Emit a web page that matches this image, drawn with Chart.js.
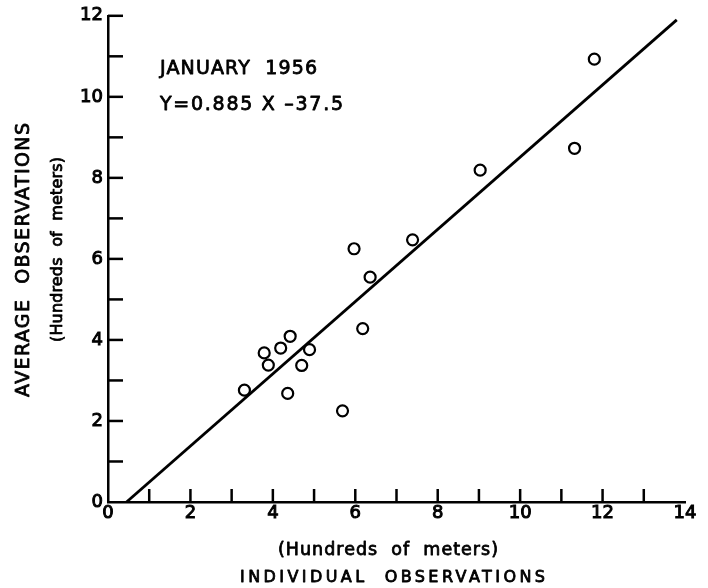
<!DOCTYPE html>
<html>
<head>
<meta charset="utf-8">
<script src="https://cdn.jsdelivr.net/npm/chart.js@4.4.1/dist/chart.umd.min.js"></script>
<style>
  body { margin: 0; background: #fff; }
  #wrap { width: 708px; height: 588px; position: relative; }
</style>
</head>
<body>
<div id="wrap"><canvas id="chart"></canvas></div>
<script>
// individual vs average observations (hundreds of meters)
const individualObs = [3.31, 3.79, 3.89, 4.19, 4.42, 4.36, 4.70, 4.89, 5.69, 5.97, 6.18, 6.36, 7.39, 9.03, 11.32, 11.80];
const averageObs    = [2.76, 3.68, 3.38, 3.80, 4.09, 2.68, 3.37, 3.76, 2.25, 6.25, 4.28, 5.55, 6.47, 8.19, 8.73, 10.93];

// fitted line end points
const fitX = [0.45, 13.8];
const fitY = [0, 11.9];

const xTicks = [0, 2, 4, 6, 8, 10, 12, 14];
const yTicks = [0, 2, 4, 6, 8, 10, 12];

const FONT = '"DejaVu Sans", sans-serif';
const INK = 0.8; // extra stroke to get the medium weight of the lettering

Chart.defaults.font.family = FONT;
Chart.defaults.font.size = 18;
Chart.defaults.color = '#000';

// ticks drawn inward from the axes, like the original plate
const inwardTicks = {
  id: 'inwardTicks',
  afterDatasetsDraw(chart) {
    const { ctx, chartArea, scales } = chart;
    ctx.save();
    ctx.strokeStyle = '#000';
    ctx.lineWidth = 2.5;
    scales.x.ticks.forEach(t => {
      if (t.value === 0 || t.value === 14) return;
      const px = scales.x.getPixelForValue(t.value);
      ctx.beginPath();
      ctx.moveTo(px, chartArea.bottom);
      ctx.lineTo(px, chartArea.bottom - 13);
      ctx.stroke();
    });
    scales.y.ticks.forEach(t => {
      if (t.value === 0) return;
      const py = scales.y.getPixelForValue(t.value);
      ctx.beginPath();
      ctx.moveTo(chartArea.left, py);
      ctx.lineTo(chartArea.left + 15, py);
      ctx.stroke();
    });
    ctx.restore();
  }
};

// spread a string so it covers a given width (the plate's lettering is spaced out)
function spanText(ctx, text, left, y, width) {
  ctx.letterSpacing = '0px';
  const w = ctx.measureText(text).width;
  ctx.letterSpacing = ((width - w) / (text.length - 1)) + 'px';
  ctx.textAlign = 'left';
  ctx.fillText(text, left, y);
  ctx.strokeText(text, left, y);
  ctx.letterSpacing = '0px';
}

// annotation + axis titles
const labels = {
  id: 'labels',
  afterDraw(chart) {
    const ctx = chart.ctx;
    ctx.save();
    ctx.fillStyle = '#000';
    ctx.strokeStyle = '#000';
    ctx.lineWidth = INK;
    ctx.lineJoin = 'round';

    ctx.textBaseline = 'alphabetic';
    ctx.font = '19px ' + FONT;
    spanText(ctx, 'JANUARY  1956', 160, 74, 157);
    spanText(ctx, 'Y=0.885 X –37.5', 160, 110, 183);

    ctx.textBaseline = 'middle';
    ctx.font = '17.5px ' + FONT;
    spanText(ctx, '(Hundreds  of  meters)', 388 - 110, 550, 220);
    ctx.font = '16px ' + FONT;
    spanText(ctx, 'INDIVIDUAL  OBSERVATIONS', 392 - 152, 578, 305);

    ctx.save();
    ctx.translate(24, 260);
    ctx.rotate(-Math.PI / 2);
    ctx.font = '19px ' + FONT;
    spanText(ctx, 'AVERAGE  OBSERVATIONS', -137, 0, 274);
    ctx.restore();

    ctx.save();
    ctx.translate(58, 250);
    ctx.rotate(-Math.PI / 2);
    ctx.font = '16px ' + FONT;
    spanText(ctx, '(Hundreds  of  meters)', -92, 0, 185);
    ctx.restore();

    ctx.restore();
  }
};

const points = individualObs.map((x, i) => ({ x, y: averageObs[i] }));
const fitLine = fitX.map((x, i) => ({ x, y: fitY[i] }));

new Chart(document.getElementById('chart'), {
  type: 'scatter',
  data: {
    datasets: [
      {
        data: points,
        pointStyle: 'circle',
        pointRadius: 5.5,
        pointBorderWidth: 2.2,
        pointBackgroundColor: 'rgba(255,255,255,0)',
        pointBorderColor: '#000'
      },
      {
        type: 'line',
        data: fitLine,
        borderColor: '#000',
        borderWidth: 2.8,
        pointRadius: 0,
        fill: false
      }
    ]
  },
  options: {
    responsive: true,
    maintainAspectRatio: false,
    animation: false,
    events: [],
    layout: { padding: { top: 15, right: 23, left: 0, bottom: 0 } },
    plugins: {
      legend: { display: false },
      tooltip: { enabled: false }
    },
    scales: {
      x: {
        type: 'linear',
        min: 0,
        max: 14,
        afterFit: s => { s.height = 86; },
        afterBuildTicks: s => { s.ticks = [...Array(15).keys()].map(v => ({ value: v })); },
        ticks: {
          autoSkip: false,
          maxRotation: 0,
          padding: 1,
          textStrokeColor: '#000',
          textStrokeWidth: 1,
          callback: v => xTicks.includes(v) ? v : ''
        },
        grid: { display: false, drawTicks: false },
        border: { display: true, color: '#000', width: 2.5 }
      },
      y: {
        type: 'linear',
        min: 0,
        max: 12,
        afterFit: s => { s.width = 108; },
        afterBuildTicks: s => { s.ticks = [...Array(13).keys()].map(v => ({ value: v })); },
        ticks: {
          autoSkip: false,
          padding: 5,
          textStrokeColor: '#000',
          textStrokeWidth: 1,
          callback: v => yTicks.includes(v) ? v : ''
        },
        grid: { display: false, drawTicks: false },
        border: { display: true, color: '#000', width: 2.5 }
      }
    }
  },
  plugins: [inwardTicks, labels]
});
</script>
</body>
</html>
